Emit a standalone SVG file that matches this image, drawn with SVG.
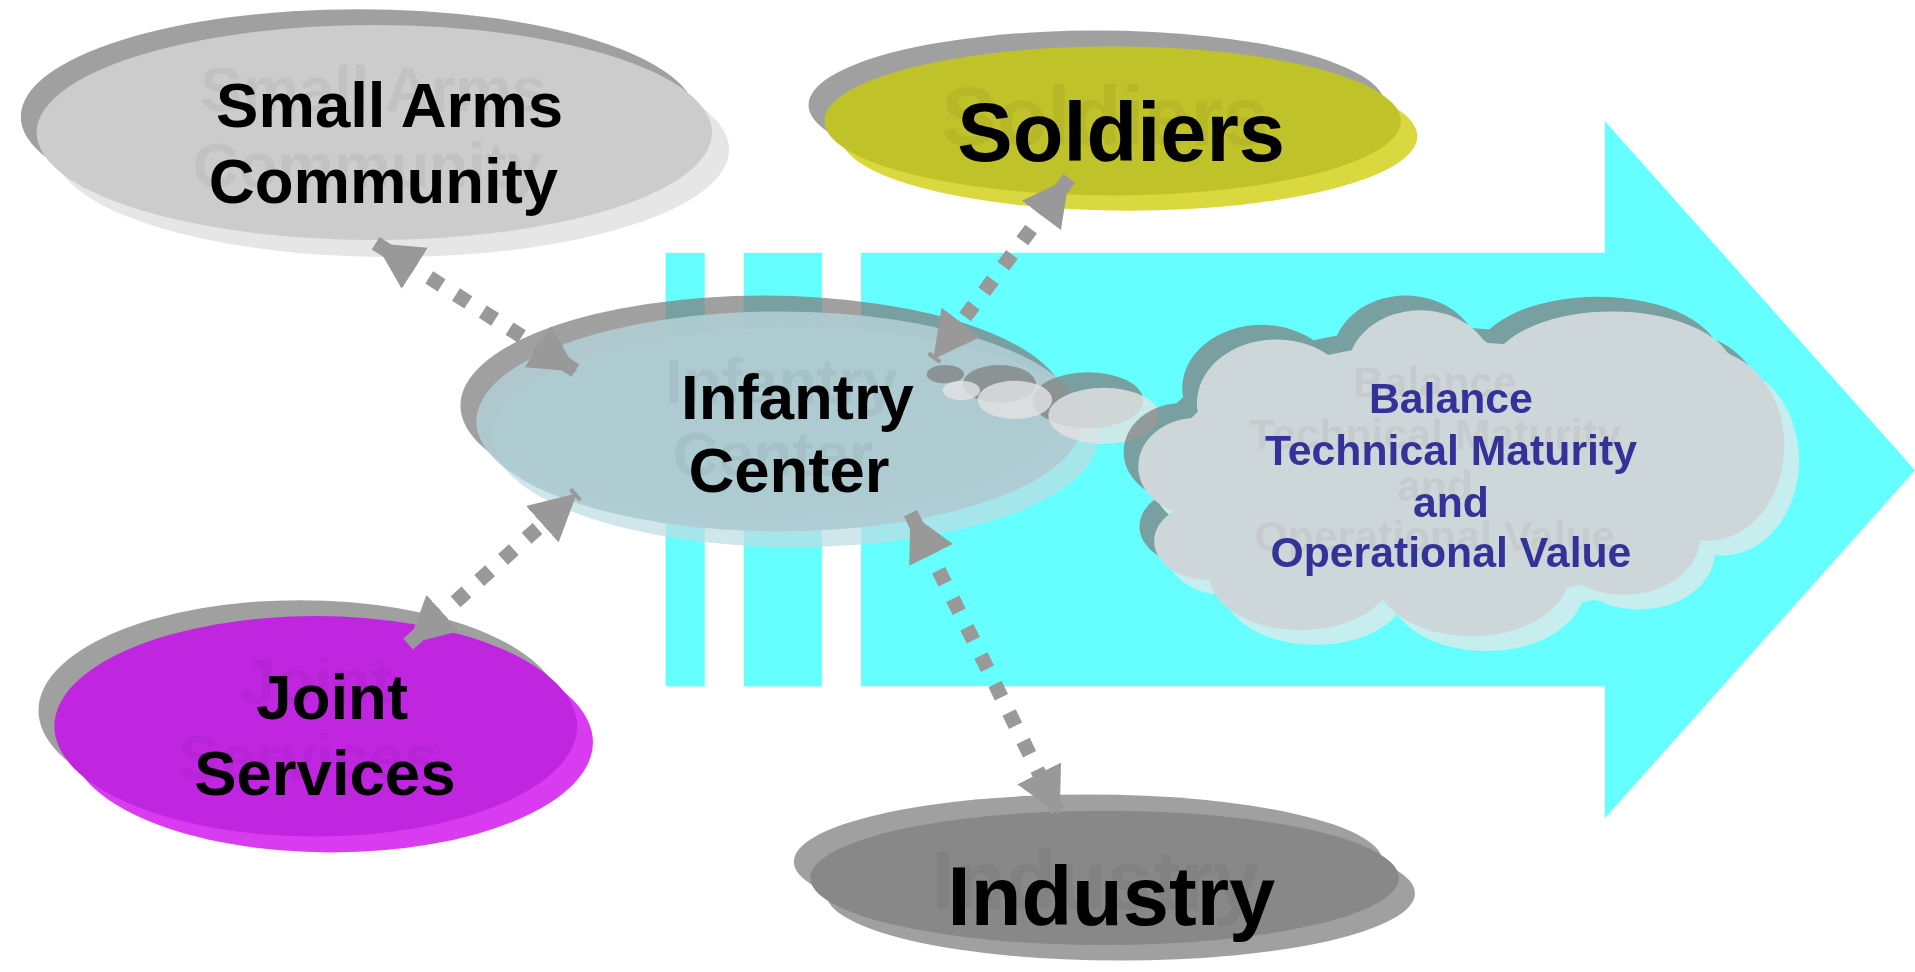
<svg xmlns="http://www.w3.org/2000/svg" width="1915" height="972" viewBox="0 0 1915 972">
<defs>
<style>
.lbl{font-family:"Liberation Sans",Arial,sans-serif;font-weight:bold;fill:#000;text-anchor:middle;filter:url(#tsh)}
.cl{font-family:"Liberation Sans",Arial,sans-serif;font-weight:bold;fill:#333399;text-anchor:middle;font-size:35px;filter:url(#csh)}
.dk{fill:#7f7f7f;opacity:.74}
.conn{stroke:#999999;stroke-width:12;stroke-dasharray:12 14;fill:none;marker-start:url(#ah);marker-end:url(#ah)}
</style>
<filter id="tsh" x="-0.3" y="-0.6" width="1.5" height="1.9">
<feOffset in="SourceAlpha" dx="-13" dy="-13" result="o"/>
<feFlood flood-color="#000000" flood-opacity="0.05"/>
<feComposite in2="o" operator="in" result="s"/>
<feMerge><feMergeNode in="s"/><feMergeNode in="SourceGraphic"/></feMerge>
</filter>
<filter id="csh" x="-0.3" y="-0.6" width="1.5" height="1.9">
<feOffset in="SourceAlpha" dx="-13" dy="-13" result="o"/>
<feFlood flood-color="#a08080" flood-opacity="0.14"/>
<feComposite in2="o" operator="in" result="s"/>
<feMerge><feMergeNode in="s"/><feMergeNode in="SourceGraphic"/></feMerge>
</filter>
<marker id="ah" viewBox="0 0 38 40" refX="38" refY="20" markerWidth="38" markerHeight="40" markerUnits="userSpaceOnUse" orient="auto-start-reverse">
<path d="M0,0 L38,20 L0,40 Z" fill="#999999"/>
</marker>
<g id="cloudShape">
<ellipse cx="1190" cy="385" rx="235" ry="105"/>
<ellipse cx="980" cy="382" rx="48" ry="40"/>
<ellipse cx="990" cy="443" rx="45" ry="32"/>
<ellipse cx="1065" cy="470" rx="75" ry="46"/>
<ellipse cx="1205" cy="470" rx="80" ry="51"/>
<ellipse cx="1330" cy="440" rx="62" ry="47"/>
<ellipse cx="1398" cy="365" rx="63" ry="78"/>
<ellipse cx="1320" cy="305" rx="100" ry="50"/>
<ellipse cx="1163" cy="304" rx="60" ry="50"/>
<ellipse cx="1045" cy="330" rx="65" ry="52"/>
</g>
</defs>
<rect width="1915" height="972" fill="#ffffff"/>
<g transform="scale(1.2213)">
<g id="flow-arrow">
<rect x="545" y="207" width="32" height="355" fill="#66ffff"/>
<rect x="609" y="207" width="64" height="355" fill="#66ffff"/>
<polygon points="705,207 1314,207 1314,99 1568,385 1314,670 1314,562 705,562" fill="#66ffff"/>
</g>
<g id="node-small-arms">
<ellipse class="dk" cx="293.5" cy="95.5" rx="276.5" ry="88"/>
<ellipse cx="320.5" cy="122.5" rx="276.5" ry="88" fill="#e6e6e6"/>
<ellipse cx="306.5" cy="108.5" rx="276.5" ry="88" fill="#cccccc"/>
<text class="lbl" font-size="52"><tspan x="319" y="104">Small Arms</tspan><tspan x="314" y="166">Community</tspan></text>
</g>
<g id="node-soldiers">
<ellipse class="dk" cx="898" cy="86" rx="236" ry="61"/>
<ellipse cx="924.5" cy="111.5" rx="236" ry="61" fill="#d9d93f"/>
<ellipse cx="911" cy="99" rx="236" ry="61" fill="#c0c22a"/>
<text class="lbl" font-size="68" x="918" y="132">Soldiers</text>
</g>
<g id="node-infantry-center">
<ellipse class="dk" cx="625" cy="332" rx="248" ry="90"/>
<ellipse cx="651" cy="358" rx="248" ry="90" fill="rgb(189,221,226)" opacity=".73"/>
<ellipse cx="638" cy="345" rx="248" ry="90" fill="rgb(175,203,209)" opacity=".92"/>
<text class="lbl" font-size="52"><tspan x="653" y="343">Infantry</tspan><tspan x="646" y="403">Center</tspan></text>
</g>
<g id="thought-bubbles">
<ellipse class="dk" cx="774" cy="306.4" rx="15.3" ry="7.5"/>
<ellipse class="dk" cx="818.3" cy="314.3" rx="30" ry="15.4"/>
<ellipse class="dk" cx="890.9" cy="327.8" rx="45.3" ry="22.9"/>
<ellipse cx="787.1" cy="319.6" rx="15.3" ry="7.9" fill="#e4e4e4" opacity=".8"/>
<ellipse cx="831" cy="327.4" rx="30.5" ry="15.7" fill="#e4e4e4" opacity=".8"/>
<ellipse cx="903.8" cy="340.5" rx="45.4" ry="23" fill="#e4e4e4" opacity=".8"/>
</g>
<g id="node-cloud">
<use href="#cloudShape" transform="translate(-12,-12)" fill="#7f7f7f" opacity=".74"/>
<use href="#cloudShape" transform="translate(12,12)" fill="#c6eeee"/>
<use href="#cloudShape" fill="#cdd7d9"/>
<text class="cl"><tspan x="1188" y="338">Balance</tspan><tspan x="1188" y="381">Technical Maturity</tspan><tspan x="1188" y="423">and</tspan><tspan x="1188" y="464">Operational Value</tspan></text>
</g>
<g id="node-joint-services">
<ellipse class="dk" cx="245.5" cy="581.7" rx="214" ry="90.3"/>
<ellipse cx="271.5" cy="607.7" rx="214" ry="90.3" fill="#d93cf0"/>
<ellipse cx="258.5" cy="594.7" rx="214" ry="90.3" fill="#c026e0"/>
<text class="lbl" font-size="52"><tspan x="272" y="589">Joint</tspan><tspan x="266" y="651">Services</tspan></text>
</g>
<g id="node-industry">
<ellipse class="dk" cx="891" cy="705.5" rx="241" ry="55"/>
<ellipse cx="917.5" cy="731.5" rx="241" ry="55" fill="#a0a0a0"/>
<ellipse cx="904.4" cy="718.8" rx="241" ry="55" fill="#888888"/>
<text class="lbl" font-size="68" x="910" y="757">Industry</text>
</g>
<g id="connectors">
<line class="conn" x1="307.6" y1="199.2" x2="472.4" y2="304.3"/>
<line class="conn" x1="875.5" y1="146" x2="764.1" y2="294.2"/>
<line class="conn" x1="334.2" y1="527.3" x2="472.4" y2="403.9"/>
<line class="conn" x1="745.5" y1="420.3" x2="867.7" y2="667.3"/>
</g>
</g>
</svg>
